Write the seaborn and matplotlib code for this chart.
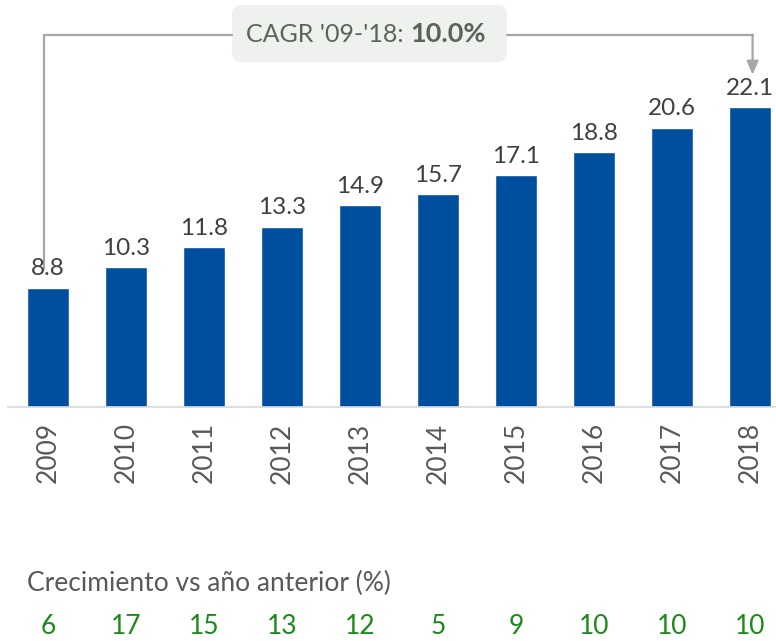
import matplotlib
matplotlib.use("Agg")
import matplotlib.pyplot as plt
from matplotlib.patches import FancyBboxPatch
import seaborn as sns
import pandas as pd

# data
years = ["2009", "2010", "2011", "2012", "2013", "2014", "2015", "2016", "2017", "2018"]
values = [8.8, 10.3, 11.8, 13.3, 14.9, 15.7, 17.1, 18.8, 20.6, 22.1]
growth = ["6", "17", "15", "13", "12", "5", "9", "10", "10", "10"]
cagr_label = "CAGR '09-'18: "
cagr_value = "10.0%"
growth_title = "Crecimiento vs año anterior (%)"

sns.set_style("white")
plt.rcParams["font.family"] = ["Lato", "DejaVu Sans"]

df = pd.DataFrame({"year": years, "value": values})

fig = plt.figure(figsize=(7.76, 6.41), dpi=100)
ax = fig.add_axes([8 / 776, 1 - 407 / 641, 1 - 8 / 776, 407 / 641])
ax.patch.set_alpha(0)

sns.barplot(data=df, x="year", y="value", color="#004f9f", width=0.54,
            saturation=1, ax=ax)

ax.set_xlim(-0.51, 9.33)
ax.set_ylim(0, 30)
ax.set_xlabel("")
ax.set_ylabel("")
ax.set_yticks([])
for s in ["top", "left", "right"]:
    ax.spines[s].set_visible(False)
ax.spines["bottom"].set_color("#d9d9d9")
ax.spines["bottom"].set_linewidth(1.2)
ax.tick_params(axis="x", length=0, pad=11, labelsize=19, labelcolor="#595959",
               labelrotation=90)

# value labels
for i, v in enumerate(values):
    ax.text(i, v + 0.6, f"{v:.1f}", ha="center", va="bottom", fontsize=17.5,
            color="#404040")

# CAGR connector
gray = "#a6a6a6"
ax.plot([-0.05, -0.05, 2.36], [10.2, 27.4, 27.4], color=gray, lw=1.6,
        clip_on=False, zorder=1)
ax.plot([5.88, 9.03], [27.4, 27.4], color=gray, lw=1.6, clip_on=False)
ax.annotate("", xy=(9.03, 24.5), xytext=(9.03, 27.45),
            arrowprops=dict(arrowstyle="-|>,head_length=0.8,head_width=0.35",
                            color=gray, lw=1.6, shrinkA=0, shrinkB=0),
            annotation_clip=False)

box = FancyBboxPatch((232 / 776, 1 - 62 / 641), 275 / 776, 57 / 641,
                     boxstyle="round,pad=0,rounding_size=0.012",
                     mutation_aspect=776 / 641, transform=fig.transFigure,
                     fc="#eef1ee", ec="none", zorder=-1)
fig.patches.append(box)
t1 = ax.text(246 / 776, 1 - 34 / 641, cagr_label, transform=fig.transFigure,
             ha="left", va="center", fontsize=18, color="#5a655a",
             clip_on=False)
ax.annotate(cagr_value, xy=(1, 0.5), xycoords=t1, ha="left", va="center",
            fontsize=19.5, fontweight="bold", color="#5a655a",
            annotation_clip=False)

# growth row
fig.text(27 / 776, 1 - 583 / 641, growth_title, ha="left", va="center",
         fontsize=19, color="#595959")
trans = matplotlib.transforms.blended_transform_factory(ax.transData, fig.transFigure)
for i, g in enumerate(growth):
    ax.text(i, 1 - 627 / 641, g, transform=trans, ha="center", va="center",
            fontsize=19, color="#1a8a1a", clip_on=False)

fig.savefig("out.png", dpi=100)
